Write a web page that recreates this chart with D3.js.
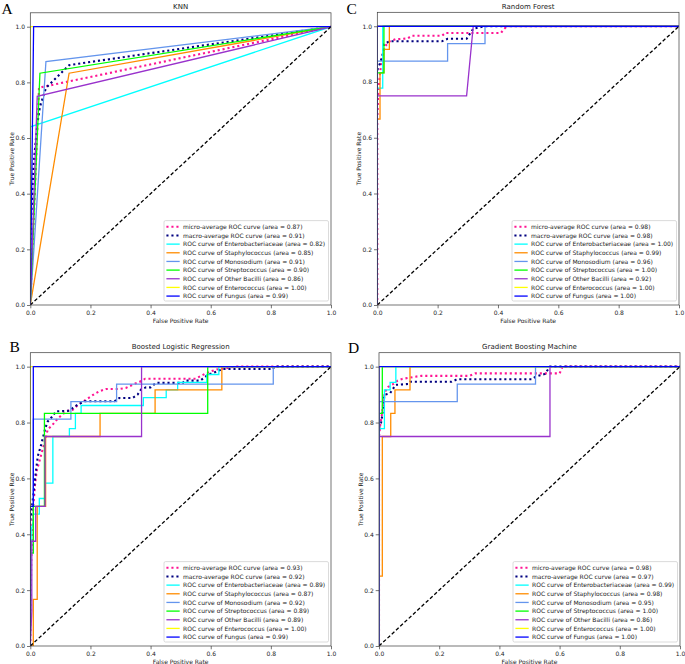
<!DOCTYPE html>
<html><head><meta charset="utf-8">
<script src="https://cdn.jsdelivr.net/npm/d3@7"></script>
<style>body{margin:0;background:#fff}svg{display:block}text{font-family:"DejaVu Sans",sans-serif;fill:#1a1a1a}</style>
</head><body>
<svg id="chart" width="685" height="664"></svg>
<script>
// ---------- data ----------
const classNames = ["Enterobacteriaceae","Staphylococcus","Monosodium","Streptococcus","Other Bacilli","Enterococcus","Fungus"];
const xTicks = [0,0.2,0.4,0.6,0.8,1.0];
const yTicks = [0,0.2,0.4,0.6,0.8,1.0];

// A: KNN  [fpr, tpr]
const knnMicro = [[0,0],[0.029,0.781],[1,1]];
const knnMacro = [[0,0.234],[0.011,0.506],[0.023,0.647],[0.032,0.712],[0.052,0.780],[0.129,0.862],[1,1]];
const knnEntero = [[0,0],[0,0.64],[1,1]];
const knnStaph = [[0,0],[0.129,0.833],[1,1]];
const knnMono = [[0,0],[0.052,0.875],[1,1]];
const knnStrep = [[0,0],[0.032,0.833],[1,1]];
const knnBacilli = [[0,0],[0.023,0.75],[1,1]];
const knnEnteroc = [[0,0],[0,1],[1,1]];
const knnFungus = [[0,0],[0.011,1],[1,1]];
const knnAUC = [0.87,0.91,0.82,0.85,0.91,0.90,0.86,1.00,0.99];

// C: Random Forest
const rfMicro = [[0,0],[0,0.66],[0.003,0.75],[0.006,0.8],[0.01,0.84],[0.015,0.88],[0.02,0.91],[0.027,0.93],[0.04,0.945],[0.06,0.953],[0.1,0.956],[0.115,0.966],[0.215,0.966],[0.225,0.976],[0.41,0.976],[0.42,0.99],[0.43,1],[1,1]];
const rfMacro = [[0,0.843],[0.009,0.867],[0.018,0.899],[0.022,0.935],[0.04,0.946],[0.214,0.946],[0.233,0.955],[0.296,0.955],[0.318,0.991],[0.357,1],[1,1]];
const rfEntero = [[0,0],[0,0.778],[0.018,0.778],[0.018,1],[1,1]];
const rfStaph = [[0,0],[0,0.667],[0.009,0.667],[0.009,0.833],[0.022,0.833],[0.022,0.917],[0.04,0.917],[0.04,1],[1,1]];
const rfMono = [[0,0],[0,0.875],[0.233,0.875],[0.233,0.9375],[0.357,0.9375],[0.357,1],[1,1]];
const rfStrep = [[0,0],[0,0.833],[0.022,0.833],[0.022,1],[1,1]];
const rfBacilli = [[0,0],[0,0.75],[0.296,0.75],[0.318,1],[1,1]];
const rfEnteroc = [[0,0],[0,1],[1,1]];
const rfFungus = [[0,0],[0,1],[1,1]];
const rfAUC = [0.98,0.98,1.00,0.99,0.96,1.00,0.92,1.00,1.00];

// B: Boosted Logistic Regression
const blrMicro = [[0,0],[0.003,0.3],[0.006,0.42],[0.01,0.5],[0.016,0.58],[0.022,0.63],[0.03,0.66],[0.04,0.7],[0.047,0.727],[0.058,0.775],[0.074,0.792],[0.091,0.814],[0.119,0.84],[0.141,0.846],[0.158,0.862],[0.174,0.874],[0.191,0.886],[0.213,0.902],[0.23,0.912],[0.252,0.92],[0.296,0.92],[0.318,0.924],[0.346,0.938],[0.363,0.945],[0.382,0.957],[0.55,0.957],[0.58,0.974],[0.6,0.983],[0.62,0.99],[0.66,0.996],[0.68,1],[1,1]];
const blrMacro = [[0,0.45],[0.01,0.54],[0.018,0.62],[0.025,0.68],[0.036,0.72],[0.05,0.78],[0.058,0.804],[0.074,0.822],[0.085,0.84],[0.13,0.842],[0.141,0.852],[0.158,0.864],[0.18,0.876],[0.28,0.876],[0.296,0.888],[0.34,0.888],[0.357,0.9],[0.368,0.918],[0.385,0.926],[0.4,0.926],[0.418,0.942],[0.507,0.942],[0.514,0.95],[0.565,0.95],[0.59,0.97],[0.62,0.983],[0.64,0.992],[0.808,0.992],[0.81,1],[1,1]];
const blrEntero = [[0,0],[0.003,0.417],[0.01,0.444],[0.01,0.472],[0.03,0.472],[0.03,0.528],[0.05,0.528],[0.05,0.583],[0.075,0.583],[0.075,0.75],[0.13,0.75],[0.13,0.778],[0.15,0.778],[0.15,0.833],[0.169,0.833],[0.169,0.861],[0.376,0.861],[0.376,0.889],[0.452,0.889],[0.452,0.917],[0.49,0.917],[0.49,0.944],[0.587,0.944],[0.587,0.972],[0.627,0.972],[0.627,1],[1,1]];
const blrStaph = [[0,0],[0.01,0],[0.01,0.167],[0.023,0.167],[0.023,0.5],[0.051,0.5],[0.051,0.75],[0.232,0.75],[0.232,0.833],[0.415,0.833],[0.415,0.917],[0.637,0.917],[0.637,1],[1,1]];
const blrMono = [[0,0],[0,0.375],[0.01,0.375],[0.01,0.8125],[0.135,0.8125],[0.135,0.875],[0.287,0.875],[0.287,0.9375],[0.808,0.9375],[0.808,1],[1,1]];
const blrStrep = [[0,0],[0,0.333],[0.01,0.333],[0.01,0.5],[0.047,0.5],[0.047,0.833],[0.59,0.833],[0.59,1],[1,1]];
const blrBacilli = [[0,0],[0.005,0.125],[0.005,0.375],[0.018,0.375],[0.018,0.5],[0.049,0.5],[0.049,0.75],[0.37,0.75],[0.37,1],[1,1]];
const blrEnteroc = [[0,0],[0,1],[1,1]];
const blrFungus = [[0,0],[0,0.5],[0.01,0.5],[0.01,1],[1,1]];
const blrAUC = [0.93,0.92,0.89,0.87,0.92,0.89,0.89,1.00,0.99];

// D: Gradient Boosting Machine
const gbmMicro = [[0,0],[0,0.75],[0.004,0.79],[0.01,0.83],[0.015,0.88],[0.02,0.91],[0.031,0.928],[0.048,0.938],[0.062,0.95],[0.077,0.956],[0.12,0.964],[0.14,0.967],[0.3,0.967],[0.32,0.976],[0.6,0.976],[0.61,1],[1,1]];
const gbmMacro = [[0,0.78],[0.007,0.8],[0.011,0.827],[0.018,0.899],[0.037,0.905],[0.048,0.923],[0.056,0.935],[0.097,0.938],[0.103,0.946],[0.241,0.946],[0.26,0.955],[0.507,0.955],[0.52,0.964],[0.551,0.974],[0.568,1],[1,1]];
const gbmEntero = [[0,0],[0,0.778],[0.018,0.778],[0.018,0.917],[0.037,0.917],[0.037,0.944],[0.056,0.944],[0.056,1],[1,1]];
const gbmStaph = [[0,0],[0,0.25],[0.011,0.25],[0.011,0.75],[0.039,0.75],[0.039,0.833],[0.053,0.833],[0.053,0.917],[0.103,0.917],[0.103,1],[1,1]];
const gbmMono = [[0,0],[0,0.875],[0.26,0.875],[0.26,0.9375],[0.52,0.9375],[0.52,1],[1,1]];
const gbmStrep = [[0,0],[0,0.833],[0.011,0.833],[0.011,1],[1,1]];
const gbmBacilli = [[0,0],[0,0.75],[0.568,0.75],[0.568,1],[1,1]];
const gbmEnteroc = [[0,0],[0,1],[1,1]];
const gbmFungus = [[0,0],[0,1],[1,1]];
const gbmAUC = [0.98,0.97,0.99,0.98,0.95,1.00,0.86,1.00,1.00];

const chanceLine = [[0,0],[1,1]];

// ---------- styles ----------
const seriesColors = ["deeppink","navy","aqua","darkorange","cornflowerblue","lime","darkorchid","yellow","blue"];

const panels = [
  {letter:"A", title:"KNN", x0:30.3, x1:331, yb:305, yt:12.8, lx:1.5, ly:14,
   series:[knnMicro,knnMacro,knnEntero,knnStaph,knnMono,knnStrep,knnBacilli,knnEnteroc,knnFungus], auc:knnAUC},
  {letter:"C", title:"Random Forest", x0:377.3, x1:679, yb:305, yt:12.3, lx:346.5, ly:14,
   series:[rfMicro,rfMacro,rfEntero,rfStaph,rfMono,rfStrep,rfBacilli,rfEnteroc,rfFungus], auc:rfAUC},
  {letter:"B", title:"Boosted Logistic Regression", x0:30.3, x1:331, yb:646, yt:352.7, lx:9.5, ly:351.7,
   series:[blrMicro,blrMacro,blrEntero,blrStaph,blrMono,blrStrep,blrBacilli,blrEnteroc,blrFungus], auc:blrAUC},
  {letter:"D", title:"Gradient Boosting Machine", x0:379, x1:680, yb:646, yt:352.7, lx:348, ly:352.5,
   series:[gbmMicro,gbmMacro,gbmEntero,gbmStaph,gbmMono,gbmStrep,gbmBacilli,gbmEnteroc,gbmFungus], auc:gbmAUC}
];

const svg = d3.select("#chart");

function labelFor(i, auc){
  const a = auc[i].toFixed(2);
  if (i===0) return `micro-average ROC curve (area = ${a})`;
  if (i===1) return `macro-average ROC curve (area = ${a})`;
  return `ROC curve of ${classNames[i-2]} (area = ${a})`;
}

panels.forEach((p, pi) => {
  const x = d3.scaleLinear().domain([0,1]).range([p.x0, p.x1]);
  const y = d3.scaleLinear().domain([0,1.05]).range([p.yb, p.yt]);
  const g = svg.append("g");
  const clipId = "clip"+pi;
  g.append("clipPath").attr("id", clipId).append("rect")
    .attr("x", p.x0).attr("y", p.yt).attr("width", p.x1-p.x0).attr("height", p.yb-p.yt);

  const line = d3.line().x(d=>x(d[0])).y(d=>y(d[1]));
  const plot = g.append("g").attr("clip-path", `url(#${clipId})`);

  p.series.forEach((s, i) => {
    const path = plot.append("path").datum(s).attr("d", line)
      .attr("fill","none").attr("stroke", seriesColors[i]);
    if (i < 2) {
      path.attr("stroke-width", 2.1).attr("stroke-dasharray","2.1,2.9");
    } else {
      path.attr("stroke-width", 1.3).attr("stroke-linejoin","miter");
    }
  });
  plot.append("path").datum(chanceLine).attr("d", line)
    .attr("fill","none").attr("stroke","#000").attr("stroke-width",1.3).attr("stroke-dasharray","3.6,2.2");

  // frame
  g.append("rect").attr("x", p.x0).attr("y", p.yt).attr("width", p.x1-p.x0).attr("height", p.yb-p.yt)
    .attr("fill","none").attr("stroke","#3a3a3a").attr("stroke-width",0.7);

  // axes
  const xAxis = d3.axisBottom(x).tickValues(xTicks).tickFormat(d3.format(".1f")).tickSize(3.3).tickPadding(2);
  const yAxis = d3.axisLeft(y).tickValues(yTicks).tickFormat(d3.format(".1f")).tickSize(3.3).tickPadding(2);
  const gx = g.append("g").attr("transform",`translate(0,${p.yb})`).call(xAxis);
  const gy = g.append("g").attr("transform",`translate(${p.x0},0)`).call(yAxis);
  [gx, gy].forEach(ax => {
    ax.select(".domain").remove();
    ax.selectAll("line").attr("stroke","#3a3a3a").attr("stroke-width",0.7);
    ax.selectAll("text").attr("font-size",6).attr("font-family","DejaVu Sans").attr("fill","#1a1a1a");
  });

  // title & labels
  g.append("text").attr("x",(p.x0+p.x1)/2).attr("y",p.yt-3.6).attr("text-anchor","middle")
    .attr("font-size",7).text(p.title);
  g.append("text").attr("x",(p.x0+p.x1)/2).attr("y",p.yb+17.8).attr("text-anchor","middle")
    .attr("font-size",6).text("False Positive Rate");
  g.append("text").attr("transform",`translate(${p.x0-16.4},${(p.yt+p.yb)/2}) rotate(-90)`)
    .attr("text-anchor","middle").attr("font-size",6).text("True Positive Rate");
  g.append("text").attr("x",p.lx).attr("y",p.ly).attr("font-size",15.5)
    .style("font-family","'Liberation Serif','Times New Roman',serif").style("fill","#000").text(p.letter);

  // legend
  const legW = 164.5, legH = 80.4;
  const lx = p.x1 - 2.5 - legW, ly = p.yb - 4 - legH;
  const leg = g.append("g");
  leg.append("rect").attr("x",lx).attr("y",ly).attr("width",legW).attr("height",legH)
    .attr("rx",1.5).attr("fill","#fff").attr("fill-opacity",0.85).attr("stroke","#cccccc").attr("stroke-width",0.7);
  p.series.forEach((s,i) => {
    const cy = ly + 6.2 + i*8.66;
    const hl = leg.append("line").attr("x1",lx+2.4).attr("x2",lx+15.7).attr("y1",cy).attr("y2",cy)
      .attr("stroke",seriesColors[i]);
    if (i<2) hl.attr("stroke-width",2.1).attr("stroke-dasharray","2.1,2.9");
    else hl.attr("stroke-width",1.3);
    leg.append("text").attr("x",lx+19).attr("y",cy).attr("dy","0.35em").attr("font-size",6)
      .text(labelFor(i,p.auc));
  });
});
</script>
</body></html>
